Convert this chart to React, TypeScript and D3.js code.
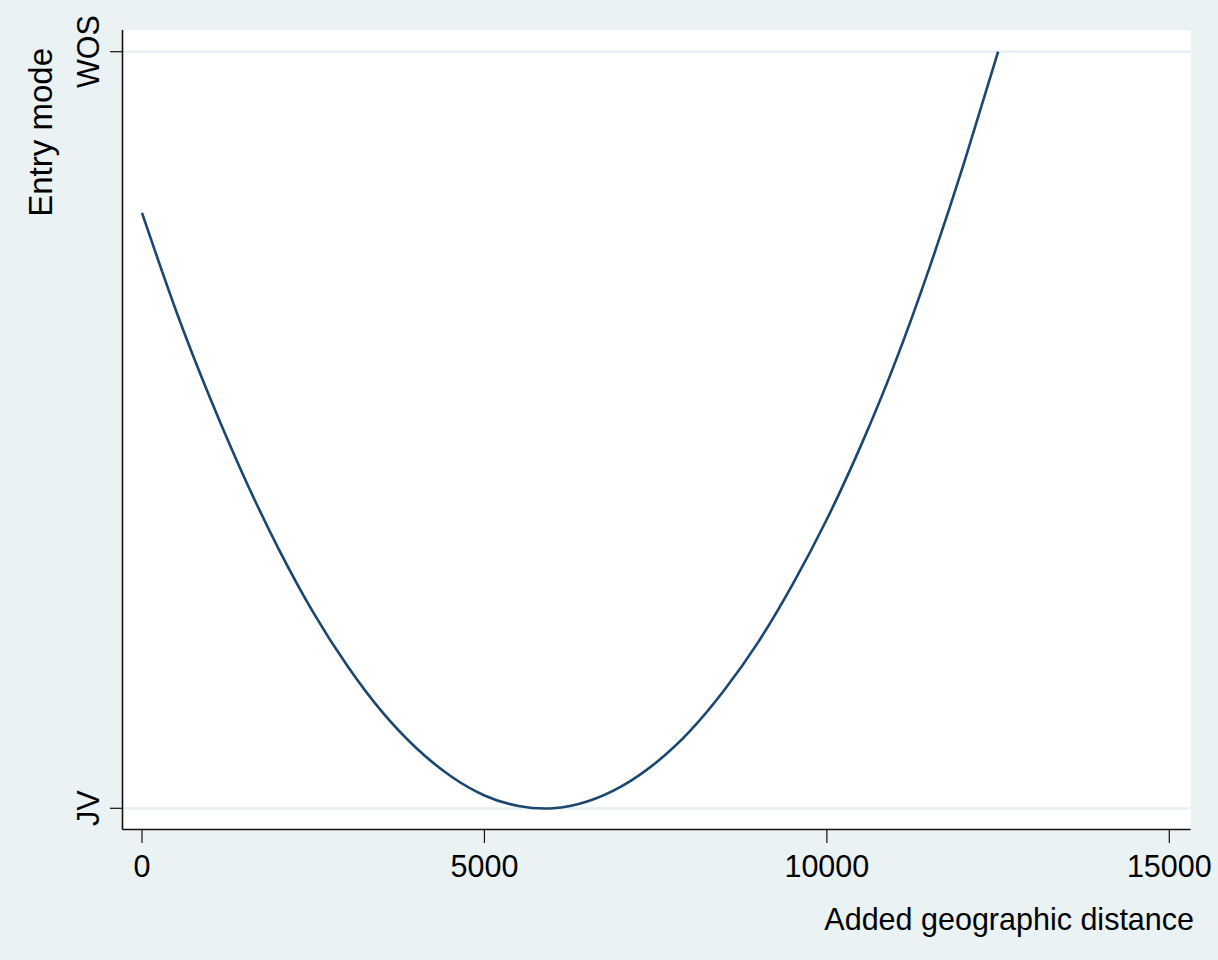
import React, { useEffect } from 'react';
import * as d3 from 'd3';

// values: added distance vs. fitted entry mode (0 = JV, 1 = WOS)
const distance = [0, 500, 1000, 1500, 2000, 2500, 3000, 3500, 4000, 4500, 5000, 5500, 6000,
  6500, 7000, 7500, 8000, 8500, 9000, 9500, 10000, 10500, 11000, 11500, 12000, 12500];
const entryMode = [0.787, 0.657, 0.541, 0.436, 0.342, 0.259, 0.188, 0.128, 0.080, 0.043, 0.017,
  0.003, 0.0, 0.009, 0.029, 0.060, 0.102, 0.156, 0.220, 0.296, 0.382, 0.480, 0.590, 0.715, 0.852, 1.0];

const xTicks = [0, 5000, 10000, 15000];
const yTicks = [0, 1];
const yTickLabels = ['JV', 'WOS'];

const W = 1218;
const H = 960;
const FONT = '"Liberation Sans", Arial, Helvetica, sans-serif';

export default function App() {
  useEffect(() => {
    document.body.style.margin = '0';
  }, []);

  const x = d3.scaleLinear().domain([0, 15000]).range([142, 1169.3]);
  const y = d3.scaleLinear().domain([0, 1]).range([808.3, 51.7]);

  const plotLeft = 122.5;
  const plotRight = 1190.5;
  const plotTop = 30;
  const plotBottom = 829.5;

  const line = d3.line<number>()
    .x((d, i) => x(distance[i]))
    .y(d => y(d))
    .curve(d3.curveNatural);

  return (
    <svg width={W} height={H} style={{ display: 'block' }} fontFamily={FONT}>
      <rect x={0} y={0} width={W} height={H} fill="#eaf2f3" />
      <rect x={plotLeft} y={plotTop} width={plotRight - plotLeft} height={plotBottom - plotTop} fill="#ffffff" />

      {yTicks.map(t => (
        <line key={'g' + t} x1={plotLeft} x2={plotRight} y1={y(t)} y2={y(t)} stroke="#e4eef0" strokeWidth={2.2} />
      ))}

      <path d={line(entryMode) || ''} fill="none" stroke="#1a476f" strokeWidth={2.6} />

      {/* axes */}
      <line x1={plotLeft} x2={plotLeft} y1={plotTop} y2={plotBottom} stroke="#111" strokeWidth={1.6} />
      <line x1={plotLeft} x2={plotRight} y1={plotBottom} y2={plotBottom} stroke="#111" strokeWidth={1.6} />

      {xTicks.map(t => (
        <g key={'x' + t}>
          <line x1={x(t)} x2={x(t)} y1={plotBottom} y2={843} stroke="#111" strokeWidth={1.2} />
          <text x={x(t)} y={877} textAnchor="middle" fontSize={30.5} fill="#000">{t}</text>
        </g>
      ))}

      {yTicks.map((t, i) => (
        <g key={'y' + t}>
          <line x1={110} x2={plotLeft} y1={y(t)} y2={y(t)} stroke="#111" strokeWidth={1.2} />
          <text transform={`translate(99,${y(t)}) rotate(-90)`} textAnchor="middle" fontSize={30.5} fill="#000">
            {yTickLabels[i]}
          </text>
        </g>
      ))}

      <text x={1194} y={930} textAnchor="end" fontSize={30.5} fill="#000">Added geographic distance</text>
      <text transform="translate(52,48) rotate(-90)" textAnchor="end" fontSize={33} fill="#000">Entry mode</text>
    </svg>
  );
}
